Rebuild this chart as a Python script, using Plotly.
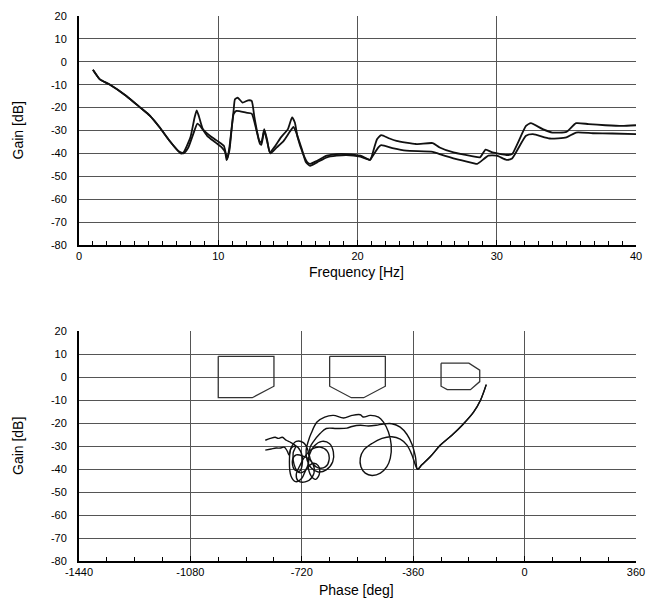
import plotly.graph_objects as go

# ---------------- Top: gain vs frequency ----------------
freq_a = [1.0, 1.5, 2.2, 3.4, 4.4, 5.1, 5.8, 6.5, 7.1, 7.3, 7.5, 8.0, 8.3, 8.45, 8.6, 8.9, 9.4, 10.0, 10.4, 10.55,
          10.65, 10.8, 11.1, 11.2, 11.4, 11.75, 12.15, 12.4, 12.6, 12.95, 13.1, 13.3, 13.5, 13.7, 14.1, 14.5, 15.0,
          15.3, 15.5, 15.7, 16.1, 16.4, 16.6, 17.1, 17.8, 18.5, 19.2, 20.2, 20.9, 21.0, 21.4, 21.7, 22.3, 22.8,
          24.2, 25.4, 25.9, 26.9, 28.3, 28.8, 29.2, 29.7, 30.7, 31.1, 32.1, 32.45, 33.3, 34.0, 35.0, 35.7, 36.6,
          37.8, 39.0, 40.0]
gain_a = [-3.5, -7.7, -9.9, -14.9, -20.0, -23.6, -28.7, -34.5, -38.8, -40.0, -39.6, -33.0, -24.3, -21.2, -23.6,
          -29.4, -32.3, -34.8, -36.7, -40.3, -42.5, -37.4, -21.4, -16.4, -15.7, -17.8, -16.8, -17.1, -24.3, -34.5,
          -35.2, -29.4, -33.8, -39.6, -36.7, -33.0, -29.4, -24.3, -26.5, -33.0, -40.3, -43.9, -44.6, -43.2, -41.0,
          -40.3, -40.3, -41.0, -42.8, -41.7, -33.8, -32.0, -33.5, -34.5, -35.9, -35.5, -37.4, -39.6, -41.3, -41.7,
          -38.4, -39.6, -40.7, -40.3, -28.0, -26.8, -29.4, -30.9, -30.6, -26.8, -27.2, -27.7, -28.0, -27.7]

freq_b = [1.0, 1.5, 2.2, 3.4, 4.4, 5.1, 5.8, 6.5, 7.1, 7.5, 7.85, 8.2, 8.5, 8.7, 9.2, 9.8, 10.25, 10.5, 10.6, 10.8,
          11.1, 11.3, 12.0, 12.4, 12.75, 13.0, 13.1, 13.3, 13.5, 13.75, 14.2, 14.7, 15.1, 15.4, 15.6, 16.0, 16.3,
          16.6, 17.1, 17.8, 18.5, 19.2, 20.2, 20.9, 21.0, 21.5, 21.7, 22.6, 23.5, 25.4, 25.9, 27.1, 28.3, 28.6,
          29.4, 30.0, 30.7, 31.1, 32.1, 32.6, 33.8, 35.0, 35.7, 36.9, 38.3, 40.0]
gain_b = [-3.5, -7.7, -9.9, -14.9, -20.0, -23.6, -28.7, -34.5, -38.8, -40.0, -37.4, -31.6, -27.0, -28.0, -32.3,
          -35.2, -37.4, -39.6, -42.9, -38.8, -22.9, -21.4, -22.2, -22.6, -30.1, -35.9, -36.2, -30.1, -34.5, -40.0,
          -37.4, -34.5, -30.9, -28.4, -30.9, -38.1, -43.9, -45.4, -43.9, -41.7, -41.0, -40.7, -41.4, -42.8, -42.0,
          -37.4, -36.4, -37.8, -38.8, -39.3, -40.3, -42.5, -44.2, -44.6, -41.0, -41.0, -42.8, -42.2, -32.3, -31.6,
          -33.5, -33.0, -30.9, -31.2, -31.3, -31.6]

# ---------------- Bottom: gain vs phase ----------------
phase_x = [-124, -143, -165, -197, -235, -272, -305, -332, -346,
           -353, -364, -380, -402, -429, -461, -493, -520, -531, -529, -515, -493, -466, -445, -434, -431, -440,
           -456, -472, -499, -521, -531, -558, -585, -618, -646, -671, -690,
           -699, -706, -703, -690, -667, -641, -620, -618, -630, -655, -680, -696,
           -700, -690, -675, -663, -667, -683,
           -705, -720, -740, -755, -760, -755, -738, -715, -700, -698, -712, -730, -745, -748, -740,
           -755, -770, -783, -796, -806, -822, -838]
gain_x = [-3.3, -10.2, -15.3, -20.3, -25.3, -29.6, -34.7, -38.2, -40.1,
          -38.2, -33.9, -29.6, -27.0, -26.0, -26.7, -28.9, -31.8, -35.3, -39.0, -41.8, -42.8, -41.8, -39.0, -35.3,
          -29.6, -23.9, -19.6, -17.4, -16.7, -17.4, -16.4, -16.7, -17.8, -16.7, -17.4, -19.6, -24.6,
          -27.9, -31.8, -36.1, -39.5, -41.3, -40.4, -36.9, -32.6, -29.0, -28.0, -30.0, -34.0,
          -38.0, -43.0, -44.5, -42.0, -38.5, -37.5,
          -40.0, -44.0, -45.5, -43.0, -37.0, -31.0, -28.0, -28.5, -32.0, -37.0, -41.0, -41.5, -38.0, -33.0, -30.0,
          -28.5, -27.5, -26.2, -26.7, -26.2, -26.7, -27.5]

phase_y = [-124, -143, -165, -197, -235, -272, -305, -332, -346,
           -353, -364, -380, -402, -429, -456, -480, -505, -531, -558, -574, -607, -641, -661, -683,
           -693, -696, -686, -667, -644, -632, -638, -661, -686, -709, -725, -738, -732, -709, -686, -680, -693,
           -716, -738, -750, -745, -728, -718, -725, -740, -755,
           -761, -767, -777, -790, -803, -819, -838]
gain_y = [-3.3, -10.2, -15.3, -20.3, -25.3, -29.6, -34.7, -38.2, -40.1,
          -34.5, -29.2, -25.0, -21.8, -20.3, -20.4, -21.0, -21.3, -21.0, -21.5, -22.2, -22.4, -22.4, -24.6, -28.2,
          -30.5, -33.9, -37.4, -39.5, -39.1, -36.1, -32.2, -30.5, -31.3, -34.4, -38.2, -42.5, -45.1, -45.6, -43.4,
          -39.5, -36.1, -34.4, -33.9, -36.0, -40.0, -41.0, -37.0, -32.0, -30.0, -31.0,
          -33.9, -32.2, -30.5, -30.9, -30.9, -31.3, -31.8]

box1_phase = [-990, -810, -810, -880, -990, -990]
box1_gain = [9, 9, -4, -9, -9, 9]
box2_phase = [-630, -450, -450, -520, -560, -630, -630]
box2_gain = [9, 9, -4, -9, -9, -4, 9]
box3_phase = [-270, -180, -145, -145, -175, -250, -270, -270]
box3_gain = [6, 6, 3, -2, -5.5, -5.5, -4, 6]

gain_ticks = [-80, -70, -60, -50, -40, -30, -20, -10, 0, 10, 20]
freq_ticks = [0, 10, 20, 30, 40]
phase_ticks = [-1440, -1080, -720, -360, 0, 360]

FONT = "Liberation Sans, Arial, Helvetica, sans-serif"
INK = "#111111"

fig = go.Figure()
for fx, gy in [(freq_a, gain_a), (freq_b, gain_b)]:
    fig.add_trace(go.Scatter(x=fx, y=gy, mode="lines", xaxis="x", yaxis="y",
                             line=dict(color=INK, width=1.8, shape="spline", smoothing=0.5),
                             showlegend=False, hoverinfo="skip"))
for px, gy in [(phase_x, gain_x), (phase_y, gain_y)]:
    fig.add_trace(go.Scatter(x=px, y=gy, mode="lines", xaxis="x2", yaxis="y2",
                             line=dict(color=INK, width=1.4, shape="spline", smoothing=1.0),
                             showlegend=False, hoverinfo="skip"))
for bx, by in [(box1_phase, box1_gain), (box2_phase, box2_gain), (box3_phase, box3_gain)]:
    fig.add_trace(go.Scatter(x=bx, y=by, mode="lines", xaxis="x2", yaxis="y2",
                             line=dict(color="#333333", width=1.3),
                             showlegend=False, hoverinfo="skip"))
# invisible traces so the minor-tick overlay axes are built
fig.add_trace(go.Scatter(x=[None], y=[None], xaxis="x3", yaxis="y", showlegend=False, hoverinfo="skip"))
fig.add_trace(go.Scatter(x=[None], y=[None], xaxis="x4", yaxis="y2", showlegend=False, hoverinfo="skip"))


def lab(v):
    return str(v).replace("\u2212", "-")


grid = dict(showgrid=True, gridcolor="#555555", gridwidth=1, zeroline=False, automargin=False,
            showline=True, linecolor="black", linewidth=2,
            tickfont=dict(family=FONT, size=11, color="black"))
minor_ax = dict(showgrid=False, zeroline=False, showline=False, showticklabels=False, automargin=False,
                ticks="inside", ticklen=4, tickwidth=1, tickcolor="black", tickmode="linear", side="bottom")

top_dom = [0.5798, 1.0]
bot_dom = [0.0, 0.422]

fig.update_layout(
    width=646, height=599, autosize=False,
    margin=dict(l=79, r=10, t=16, b=38, autoexpand=False),
    paper_bgcolor="white", plot_bgcolor="white",
    font=dict(family=FONT, size=11, color="black"),
    xaxis=dict(domain=[0, 1], anchor="y", range=[0, 40], tickmode="array",
               tickvals=freq_ticks, ticktext=[lab(v) for v in freq_ticks],
               ticks="inside", ticklen=5, tickcolor="black", **grid),
    xaxis3=dict(overlaying="x", anchor="y", range=[0, 40], tick0=0, dtick=1, **minor_ax),
    yaxis=dict(domain=top_dom, anchor="x", range=[-80, 20], tickmode="array",
               tickvals=gain_ticks, ticktext=[lab(v) for v in gain_ticks],
               ticks="", ticklabelstandoff=8, **grid),
    xaxis2=dict(domain=[0, 1], anchor="y2", range=[-1440, 360], tickmode="array",
                tickvals=phase_ticks, ticktext=[lab(v) for v in phase_ticks],
                ticks="inside", ticklen=5, tickcolor="black", **grid),
    xaxis4=dict(overlaying="x2", anchor="y2", range=[-1440, 360], tick0=-1440, dtick=90, **minor_ax),
    yaxis2=dict(domain=bot_dom, anchor="x2", range=[-80, 20], tickmode="array",
                tickvals=gain_ticks, ticktext=[lab(v) for v in gain_ticks],
                ticks="", ticklabelstandoff=8, **grid),
)

ann = dict(xref="paper", yref="paper", showarrow=False, font=dict(family=FONT, size=14, color="black"))
fig.add_annotation(text="Gain [dB]", x=-0.1095, y=0.790, textangle=-90, xanchor="center", yanchor="middle", **ann)
fig.add_annotation(text="Gain [dB]", x=-0.1095, y=0.211, textangle=-90, xanchor="center", yanchor="middle", **ann)
fig.add_annotation(text="Frequency [Hz]", x=0.499, y=0.530, xanchor="center", yanchor="middle", **ann)
fig.add_annotation(text="Phase [deg]", x=0.499, y=-0.053, xanchor="center", yanchor="middle", **ann)

fig.write_html("out.html")
